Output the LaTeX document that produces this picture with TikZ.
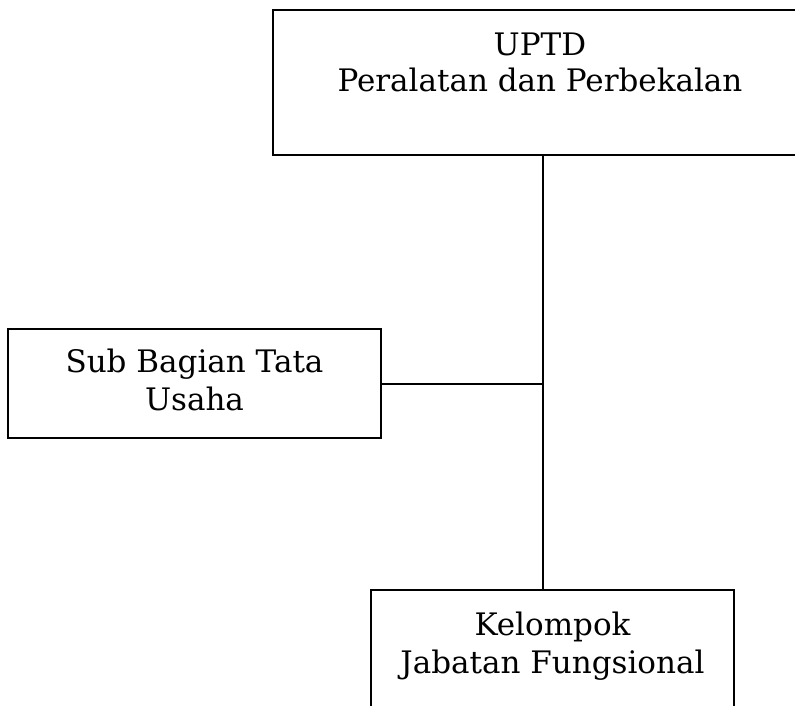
\documentclass[tikz,border=0pt]{standalone}
\usepackage{fontspec}
\setmainfont{DejaVu Serif}
\begin{document}
\begin{tikzpicture}[x=1pt,y=-1pt,
  box/.style={draw, line width=2pt, inner sep=0pt},
  lbl/.style={font=\fontsize{31}{37}\selectfont, anchor=base, inner sep=0pt},
  conn/.style={line width=2pt}]
\useasboundingbox (0,0) rectangle (795,705);
\clip (0,0) rectangle (795,705);
\node[box, minimum width=534pt, minimum height=145.5pt] (top) at (540,82.25) {};
\node[box, minimum width=373pt, minimum height=109pt] (sub) at (194.5,383.5) {};
\node[box, minimum width=363pt, minimum height=160pt] (bot) at (552.5,670) {};
\coordinate (spine) at (543,0);
\node[lbl] (t1) at (540,55) {UPTD};
\node[lbl] (t2) at (540,91.5) {Peralatan dan Perbekalan};
\node[lbl] (s1) at (194.5,372) {Sub Bagian Tata};
\node[lbl] (s2) at (194.5,410) {Usaha};
\node[lbl] (b1) at (552.5,635) {Kelompok};
\node[lbl] (b2) at (552.5,673) {Jabatan Fungsional};
\draw[conn] (top.south -| spine) -- (bot.north -| spine);
\draw[conn] (sub.east) -- (sub.east -| spine);
\end{tikzpicture}
\end{document}
